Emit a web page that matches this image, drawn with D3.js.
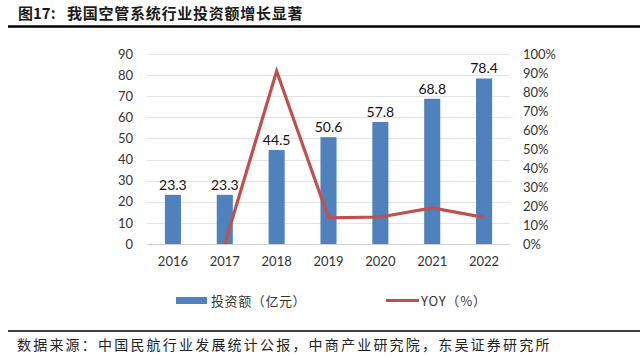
<!DOCTYPE html>
<html><head><meta charset="utf-8">
<script src="https://cdn.jsdelivr.net/npm/d3@7"></script>
<style>body{margin:0;background:#fff}svg{display:block}</style>
</head><body>
<svg id="c" width="640" height="356"></svg>
<script>
const categories = ["2016","2017","2018","2019","2020","2021","2022"];
const investment = [23.3, 23.3, 44.5, 50.6, 57.8, 68.8, 78.4];
const yoyYears = ["2017","2018","2019","2020","2021","2022"];
const yoy = [0.0, 0.91, 0.137, 0.142, 0.19, 0.14];
const leftTicks = [0,10,20,30,40,50,60,70,80,90];
const rightTicks = [0,0.1,0.2,0.3,0.4,0.5,0.6,0.7,0.8,0.9,1.0];
const titleLabel = "图17:";
const title = "我国空管系统行业投资额增长显著";
const source = "数据来源：中国民航行业发展统计公报，中商产业研究院，东吴证券研究所";
const legendBar = "投资额（亿元）";
const legendLine = "YOY（%）";

const svg = d3.select("#c");
const numFont = "Lato, 'Open Sans', sans-serif";
const cjkFont = "'Noto Sans CJK SC', sans-serif";

// title
svg.append("text").attr("x",18).attr("y",19).attr("font-family",cjkFont)
  .attr("font-weight","bold").attr("font-size",15).attr("fill","#1a1a1a").text(titleLabel);
svg.append("text").attr("x",67).attr("y",19).attr("font-family",cjkFont)
  .attr("font-weight","bold").attr("font-size",15).attr("letter-spacing",0.75).attr("fill","#1a1a1a").text(title);
svg.append("line").attr("x1",8).attr("x2",640).attr("y1",26.5).attr("y2",26.5)
  .attr("stroke","#000").attr("stroke-width",2.5);
svg.append("line").attr("x1",8).attr("x2",640).attr("y1",331).attr("y2",331)
  .attr("stroke","#000").attr("stroke-width",1.5);
svg.append("text").attr("x",17).attr("y",350).attr("font-family",cjkFont)
  .attr("font-size",14).attr("letter-spacing",2.2).attr("fill","#222").text(source);

const x0 = 147, x1 = 510, yTop = 54, yBot = 244;
const x = d3.scaleBand().domain(categories).range([x0,x1]).paddingInner(0.69).paddingOuter(0.345);
const yL = d3.scaleLinear().domain([0,90]).range([yBot,yTop]);
const yR = d3.scaleLinear().domain([0,1]).range([yBot,yTop]);

// gridlines
svg.append("g").selectAll("line").data(leftTicks).join("line")
  .attr("x1",x0).attr("x2",x1).attr("y1",d=>Math.round(yL(d))+0.5).attr("y2",d=>Math.round(yL(d))+0.5)
  .attr("stroke",d=>d===0?"#d0d0d0":"#e3e3e3").attr("stroke-width",1);

// left axis
const axL = svg.append("g").attr("transform",`translate(${x0},0)`)
  .call(d3.axisLeft(yL).tickValues(leftTicks).tickSize(0).tickPadding(14));
axL.select(".domain").remove();
axL.selectAll("text").attr("font-family",numFont).attr("font-size",13).attr("fill","#333");

// right axis
const axR = svg.append("g").attr("transform",`translate(${x1},0)`)
  .call(d3.axisRight(yR).tickValues(rightTicks).tickFormat(d3.format(".0%")).tickSize(0).tickPadding(13));
axR.select(".domain").remove();
axR.selectAll("text").attr("font-family",numFont).attr("font-size",13).attr("fill","#333");

// x axis
const axX = svg.append("g").attr("transform",`translate(0,${yBot})`)
  .call(d3.axisBottom(x).tickSize(0).tickPadding(13));
axX.select(".domain").remove();
axX.selectAll("text").attr("font-family",numFont).attr("font-size",13).attr("fill","#333");

// bars
svg.append("g").selectAll("rect").data(investment).join("rect")
  .attr("x",(d,i)=>x(categories[i])).attr("width",x.bandwidth())
  .attr("y",d=>yL(d)).attr("height",d=>yBot-yL(d)).attr("fill","#4F81BD");

// line
const line = d3.line().x((d,i)=>x(yoyYears[i])+x.bandwidth()/2).y(d=>yR(d));
svg.append("path").datum(yoy).attr("d",line).attr("fill","none")
  .attr("stroke","#C0504D").attr("stroke-width",3.2).attr("stroke-linejoin","miter");

// bar labels
svg.append("g").selectAll("text").data(investment).join("text")
  .attr("x",(d,i)=>x(categories[i])+x.bandwidth()/2).attr("y",d=>yL(d)-5)
  .attr("text-anchor","middle").attr("font-family",numFont).attr("font-size",14).attr("fill","#111")
  .text(d=>d.toFixed(1));

// legend
svg.append("rect").attr("x",176).attr("y",297).attr("width",31).attr("height",7).attr("fill","#4F81BD");
svg.append("text").attr("x",211).attr("y",305.5).attr("font-family",cjkFont).attr("font-size",13)
  .attr("letter-spacing",0.6).attr("fill","#333").text(legendBar);
svg.append("line").attr("x1",386).attr("x2",419).attr("y1",300.5).attr("y2",300.5)
  .attr("stroke","#C0504D").attr("stroke-width",3.2);
svg.append("text").attr("x",421).attr("y",305.5).attr("font-family",cjkFont).attr("font-size",13)
  .attr("letter-spacing",0.8).attr("fill","#333").text(legendLine);
</script>
</body></html>
